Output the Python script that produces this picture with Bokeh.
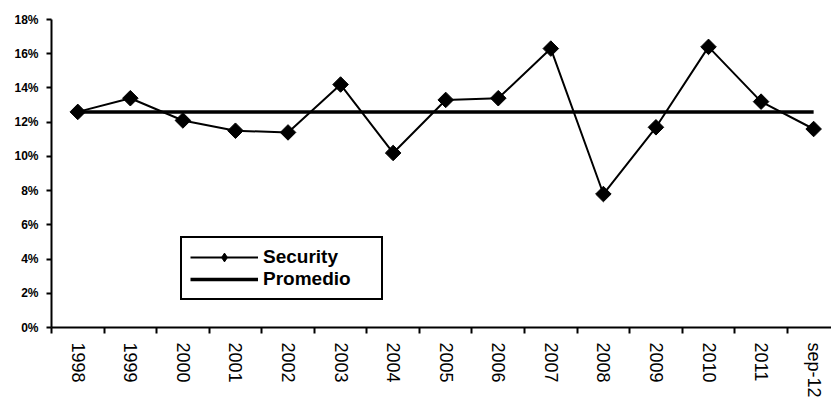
import numpy as np
from bokeh.plotting import figure
from bokeh.models import (Range1d, FixedTicker, NumeralTickFormatter, Legend,
                          LegendItem, ColumnDataSource)
from bokeh.embed import file_html
from bokeh.resources import INLINE

categories = ["1998", "1999", "2000", "2001", "2002", "2003", "2004", "2005",
              "2006", "2007", "2008", "2009", "2010", "2011", "sep-12"]
security = [12.6, 13.4, 12.1, 11.5, 11.4, 14.2, 10.2, 13.3, 13.4, 16.3, 7.8,
            11.7, 16.4, 13.2, 11.6]
promedio = [12.6] * len(categories)
y_ticks = [0, 2, 4, 6, 8, 10, 12, 14, 16, 18]

xs = list(range(len(categories)))
src = ColumnDataSource(dict(x=xs, sec=np.array(security) / 100.0,
                            prom=np.array(promedio) / 100.0))

FONT = "Liberation Sans"

p = figure(width=831, height=401, output_backend="svg", toolbar_location=None,
           x_range=Range1d(-0.5, 14.34), y_range=Range1d(0, 0.18),
           min_border_left=51, min_border_right=0, min_border_top=19,
           min_border_bottom=74)
p.outline_line_color = None
p.xgrid.visible = False
p.ygrid.visible = False
p.background_fill_color = "white"
p.border_fill_color = "white"

r_prom = p.line("x", "prom", source=src, line_color="black", line_width=3.5)
r_line = p.line("x", "sec", source=src, line_color="black", line_width=2)
r_pts = p.scatter("x", "sec", source=src, marker="square", size=11,
                  angle=np.pi / 4, fill_color="black", line_color="black")
# diamond used only for the legend swatch (zero size in the plot)
r_leg = p.scatter("x", "sec", source=src, marker="diamond", size=0,
                  fill_color="black", line_color="black")

# x axis
xa = p.xaxis[0]
xa.ticker = FixedTicker(ticks=xs, minor_ticks=[i - 0.5 for i in range(len(categories) + 1)])
xa.major_label_overrides = {i: c for i, c in enumerate(categories)}
xa.major_label_orientation = "vertical"
xa.major_tick_line_color = None
xa.major_tick_out = 6
xa.major_tick_in = 0
xa.minor_tick_out = 6
xa.minor_tick_in = 0
xa.minor_tick_line_color = "black"
xa.minor_tick_line_width = 2
xa.axis_line_width = 2
xa.axis_line_color = "black"
xa.major_label_standoff = 9
xa.major_label_text_font = FONT
xa.major_label_text_font_size = "18px"
xa.major_label_text_color = "black"

# y axis
ya = p.yaxis[0]
ya.ticker = FixedTicker(ticks=[v / 100.0 for v in y_ticks], minor_ticks=[])
ya.formatter = NumeralTickFormatter(format="0%")
ya.major_tick_out = 5
ya.major_tick_in = 0
ya.major_tick_line_width = 2
ya.major_tick_line_color = "black"
ya.minor_tick_line_color = None
ya.axis_line_width = 2
ya.axis_line_color = "black"
ya.major_label_standoff = 8
ya.major_label_text_font = FONT
ya.major_label_text_font_size = "12px"
ya.major_label_text_font_style = "bold"
ya.major_label_text_color = "black"

legend = Legend(items=[LegendItem(label="Security", renderers=[r_line, r_leg]),
                       LegendItem(label="Promedio", renderers=[r_prom])],
                location=(129, 27), orientation="vertical")
legend.padding = 8
legend.spacing = 0
legend.margin = 0
legend.glyph_width = 68
legend.glyph_height = 22
legend.label_height = 22
legend.label_width = 110
legend.label_standoff = 5
legend.label_text_font = FONT
legend.label_text_font_size = "19px"
legend.label_text_font_style = "bold"
legend.label_text_color = "black"
legend.border_line_color = "black"
legend.border_line_alpha = 1.0
legend.border_line_width = 2
legend.background_fill_color = "white"
legend.background_fill_alpha = 1.0
p.add_layout(legend, "center")

open("out.html", "w").write(file_html(p, INLINE))
